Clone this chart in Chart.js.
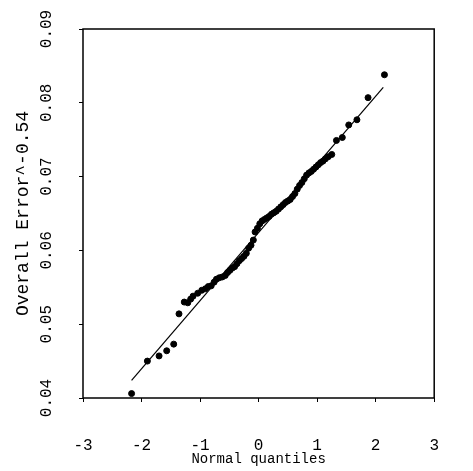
<!DOCTYPE html>
<html>
<head>
<meta charset="utf-8">
<script src="https://cdn.jsdelivr.net/npm/chart.js@4/dist/chart.umd.min.js"></script>
<style>
  html, body { margin: 0; padding: 0; background: #fff; }
  #wrap { width: 473px; height: 471px; }
</style>
</head>
<body>
<div id="wrap"><canvas id="qq"></canvas></div>
<script>
// Normal QQ plot of Overall Error^-0.54
const quantiles = [
    -2.17, -1.90, -1.70, -1.57, -1.45, -1.36, -1.27, -1.21, -1.16,
    -1.12, -1.04, -0.97, -0.91, -0.86, -0.81, -0.76, -0.72, -0.67, -0.62,
    -0.57, -0.53, -0.49, -0.45, -0.41, -0.37, -0.33, -0.29, -0.25, -0.21,
    -0.17, -0.13, -0.09, -0.06, -0.02, 0.02, 0.06, 0.10, 0.14, 0.18,
    0.22, 0.26, 0.30, 0.34, 0.38, 0.42, 0.46, 0.50, 0.54, 0.58,
    0.62, 0.66, 0.70, 0.74, 0.78, 0.82, 0.86, 0.90, 0.94, 0.98,
    1.02, 1.06, 1.10, 1.14, 1.19, 1.25, 1.33, 1.43, 1.54, 1.68,
    1.87, 2.15
];
const errorValues = [
    0.0406, 0.0450, 0.0457, 0.0464, 0.0473, 0.0514, 0.0530, 0.0529, 0.0534,
    0.0538, 0.0542, 0.0546, 0.0548, 0.0551, 0.0552, 0.0557, 0.0561, 0.0563, 0.0564,
    0.0566, 0.0570, 0.0573, 0.0576, 0.0578, 0.0582, 0.0586, 0.0589, 0.0592, 0.0596,
    0.0603, 0.0607, 0.0614, 0.0625, 0.0630, 0.0636, 0.0640, 0.0642, 0.0644, 0.0646,
    0.0649, 0.0651, 0.0653, 0.0656, 0.0659, 0.0662, 0.0665, 0.0667, 0.0669, 0.0673,
    0.0677, 0.0683, 0.0688, 0.0692, 0.0697, 0.0702, 0.0705, 0.0707, 0.0710, 0.0713,
    0.0716, 0.0719, 0.0721, 0.0724, 0.0727, 0.0730, 0.0749, 0.0753, 0.0770, 0.0777,
    0.0807, 0.0838
];
// reference line ends (qqline)
const lineQ = [-2.17, 2.13];
const lineY = [0.0424, 0.0821];

const xTicks = [-3, -2, -1, 0, 1, 2, 3];
const xTickLabels = ['-3', '-2', '-1', '0', '1', '2', '3'];
const yTicks = [0.04, 0.05, 0.06, 0.07, 0.08, 0.09];
const yTickLabels = ['0.04', '0.05', '0.06', '0.07', '0.08', '0.09'];

const FONT = "'Liberation Mono', 'Courier New', monospace";

const boxPlugin = {
    id: 'box',
    afterDraw(chart) {
        const a = chart.chartArea, ctx = chart.ctx;
        ctx.save();
        ctx.strokeStyle = '#000';
        ctx.lineWidth = 1.5;
        ctx.strokeRect(a.left, a.top, a.right - a.left, a.bottom - a.top);
        ctx.restore();
    }
};

new Chart(document.getElementById('qq').getContext('2d'), {
    type: 'scatter',
    data: {
        datasets: [{
            data: quantiles.map((q, i) => ({ x: q, y: errorValues[i] })),
            backgroundColor: '#000',
            borderColor: '#000',
            pointRadius: 3,
            pointHoverRadius: 3
        }, {
            data: lineQ.map((q, i) => ({ x: q, y: lineY[i] })),
            showLine: true,
            borderColor: '#000',
            borderWidth: 1.2,
            pointRadius: 0
        }]
    },
    options: {
        responsive: true,
        maintainAspectRatio: false,
        animation: false,
        layout: { padding: { top: 29, right: 6, left: 0, bottom: 0 } },
        plugins: { legend: { display: false }, tooltip: { enabled: false } },
        scales: {
            x: {
                type: 'linear',
                min: -3, max: 3,
                afterBuildTicks: s => { s.ticks = xTicks.map(v => ({ value: v })); },
                afterFit: s => { s.height = 73; },
                grid: { drawOnChartArea: false, drawTicks: true, tickLength: 4, color: '#000' },
                border: { display: false },
                ticks: {
                    color: '#000', font: { family: FONT, size: 16 }, padding: 34,
                    maxRotation: 0, autoSkip: false,
                    callback: (v, i) => xTickLabels[i]
                },
                title: {
                    display: true, text: 'Normal quantiles', color: '#000',
                    font: { family: FONT, size: 14 }, padding: { top: 0, bottom: 3 }
                }
            },
            y: {
                type: 'linear',
                min: 0.04, max: 0.09,
                afterBuildTicks: s => { s.ticks = yTicks.map(v => ({ value: v })); },
                afterFit: s => { s.width = 83; },
                grid: { drawOnChartArea: false, drawTicks: true, tickLength: 4, color: '#000' },
                border: { display: false },
                ticks: {
                    color: '#000', font: { family: FONT, size: 16 }, padding: 13,
                    minRotation: 90, maxRotation: 90, crossAlign: 'center', autoSkip: false,
                    callback: (v, i) => yTickLabels[i]
                },
                title: {
                    display: true, text: 'Overall Error^-0.54', color: '#000',
                    font: { family: FONT, size: 18 }, padding: { top: 12, bottom: 0 }
                }
            }
        }
    },
    plugins: [boxPlugin]
});
</script>
</body>
</html>
